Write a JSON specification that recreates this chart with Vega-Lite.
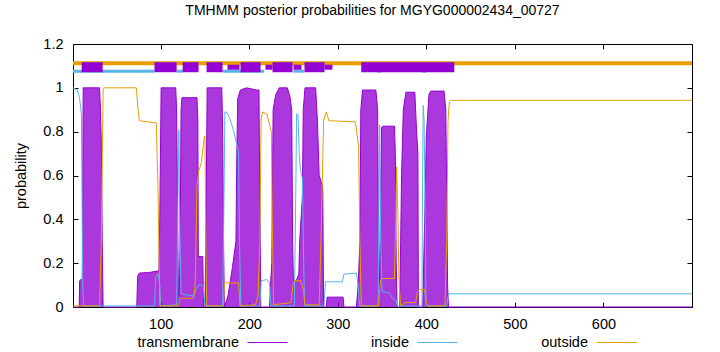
{
  "$schema": "https://vega.github.io/schema/vega-lite/v6.json",
  "width": 619,
  "height": 263,
  "autosize": {"type": "none"},
  "padding": {"left": 73, "top": 44, "right": 28, "bottom": 45},
  "background": "white",
  "title": {"text": "TMHMM posterior probabilities for MGYG000002434_00727", "fontSize": 14, "fontWeight": "normal", "font": "Liberation Sans", "color": "black", "offset": 18, "dx": -10},
  "config": {
    "font": "Liberation Sans",
    "view": {"stroke": "black", "strokeWidth": 1},
    "axis": {"grid": false, "domain": false, "tickColor": "black", "tickSize": -5, "labelFontSize": 14.5, "labelColor": "black", "labelFont": "Liberation Sans", "titleFont": "Liberation Sans", "titleFontSize": 14.5, "titleFontWeight": "normal", "titleColor": "black", "labelPadding": 15}
  },
  "resolve": {"axis": {"x": "independent", "y": "independent"}},
  "datasets": {
    "curves": [
      {"series":"transmembrane","pos":1,"prob":0},{"series":"transmembrane","pos":8,"prob":0},{"series":"transmembrane","pos":8.5,"prob":0.12},{"series":"transmembrane","pos":11.5,"prob":0.13},{"series":"transmembrane","pos":12.5,"prob":1.0},{"series":"transmembrane","pos":31,"prob":1.0},{"series":"transmembrane","pos":32,"prob":0.9},{"series":"transmembrane","pos":33,"prob":0.75},{"series":"transmembrane","pos":34,"prob":0.3},{"series":"transmembrane","pos":35,"prob":0},{"series":"transmembrane","pos":73,"prob":0},{"series":"transmembrane","pos":74,"prob":0.14},{"series":"transmembrane","pos":76,"prob":0.155},{"series":"transmembrane","pos":86,"prob":0.157},{"series":"transmembrane","pos":98,"prob":0.165},{"series":"transmembrane","pos":99,"prob":0.4},{"series":"transmembrane","pos":100.5,"prob":1.0},{"series":"transmembrane","pos":117,"prob":1.0},{"series":"transmembrane","pos":118,"prob":0.9},{"series":"transmembrane","pos":119,"prob":0.5},{"series":"transmembrane","pos":120,"prob":0.05},{"series":"transmembrane","pos":121,"prob":0.05},{"series":"transmembrane","pos":122,"prob":0.3},{"series":"transmembrane","pos":123,"prob":0.9},{"series":"transmembrane","pos":124,"prob":0.955},{"series":"transmembrane","pos":141,"prob":0.955},{"series":"transmembrane","pos":142,"prob":0.85},{"series":"transmembrane","pos":142.5,"prob":0.23},{"series":"transmembrane","pos":147.5,"prob":0.23},{"series":"transmembrane","pos":148.5,"prob":0},{"series":"transmembrane","pos":150,"prob":0},{"series":"transmembrane","pos":151,"prob":0.3},{"series":"transmembrane","pos":152.5,"prob":1.0},{"series":"transmembrane","pos":169,"prob":1.0},{"series":"transmembrane","pos":170,"prob":0.8},{"series":"transmembrane","pos":171,"prob":0.3},{"series":"transmembrane","pos":172,"prob":0},{"series":"transmembrane","pos":176,"prob":0.05},{"series":"transmembrane","pos":181,"prob":0.18},{"series":"transmembrane","pos":185,"prob":0.3},{"series":"transmembrane","pos":186,"prob":0.7},{"series":"transmembrane","pos":187,"prob":0.95},{"series":"transmembrane","pos":190,"prob":0.99},{"series":"transmembrane","pos":197,"prob":1.0},{"series":"transmembrane","pos":208,"prob":0.99},{"series":"transmembrane","pos":211,"prob":0.99},{"series":"transmembrane","pos":212,"prob":0.5},{"series":"transmembrane","pos":213,"prob":0},{"series":"transmembrane","pos":223,"prob":0},{"series":"transmembrane","pos":224,"prob":0.1},{"series":"transmembrane","pos":225.5,"prob":0.2},{"series":"transmembrane","pos":227,"prob":0.9},{"series":"transmembrane","pos":230,"prob":0.97},{"series":"transmembrane","pos":234,"prob":1.0},{"series":"transmembrane","pos":243,"prob":1.0},{"series":"transmembrane","pos":246,"prob":0.96},{"series":"transmembrane","pos":248,"prob":0.9},{"series":"transmembrane","pos":249,"prob":0.3},{"series":"transmembrane","pos":250,"prob":0.1},{"series":"transmembrane","pos":253,"prob":0.12},{"series":"transmembrane","pos":256,"prob":0.15},{"series":"transmembrane","pos":257,"prob":0.3},{"series":"transmembrane","pos":260,"prob":0.5},{"series":"transmembrane","pos":261,"prob":0.9},{"series":"transmembrane","pos":263,"prob":1.0},{"series":"transmembrane","pos":275,"prob":1.0},{"series":"transmembrane","pos":277,"prob":0.85},{"series":"transmembrane","pos":279,"prob":0.6},{"series":"transmembrane","pos":283,"prob":0.55},{"series":"transmembrane","pos":284,"prob":0},{"series":"transmembrane","pos":287,"prob":0},{"series":"transmembrane","pos":288,"prob":0.045},{"series":"transmembrane","pos":306,"prob":0.045},{"series":"transmembrane","pos":307,"prob":0},{"series":"transmembrane","pos":321,"prob":0},{"series":"transmembrane","pos":323,"prob":0.1},{"series":"transmembrane","pos":325,"prob":0.3},{"series":"transmembrane","pos":326,"prob":0.9},{"series":"transmembrane","pos":328,"prob":0.99},{"series":"transmembrane","pos":343,"prob":0.99},{"series":"transmembrane","pos":345,"prob":0.9},{"series":"transmembrane","pos":346,"prob":0.3},{"series":"transmembrane","pos":347,"prob":0.05},{"series":"transmembrane","pos":348,"prob":0.4},{"series":"transmembrane","pos":349.5,"prob":0.82},{"series":"transmembrane","pos":351,"prob":0.825},{"series":"transmembrane","pos":364,"prob":0.825},{"series":"transmembrane","pos":365,"prob":0.7},{"series":"transmembrane","pos":366,"prob":0.2},{"series":"transmembrane","pos":367,"prob":0},{"series":"transmembrane","pos":370,"prob":0},{"series":"transmembrane","pos":371,"prob":0.3},{"series":"transmembrane","pos":372,"prob":0.6},{"series":"transmembrane","pos":374,"prob":0.9},{"series":"transmembrane","pos":377,"prob":0.98},{"series":"transmembrane","pos":387,"prob":0.98},{"series":"transmembrane","pos":389,"prob":0.8},{"series":"transmembrane","pos":390.5,"prob":0.7},{"series":"transmembrane","pos":391,"prob":0},{"series":"transmembrane","pos":396,"prob":0},{"series":"transmembrane","pos":397,"prob":0.2},{"series":"transmembrane","pos":398,"prob":0.37},{"series":"transmembrane","pos":400,"prob":0.78},{"series":"transmembrane","pos":403,"prob":0.97},{"series":"transmembrane","pos":405,"prob":0.985},{"series":"transmembrane","pos":420,"prob":0.985},{"series":"transmembrane","pos":422,"prob":0.9},{"series":"transmembrane","pos":423,"prob":0.5},{"series":"transmembrane","pos":424,"prob":0.1},{"series":"transmembrane","pos":425,"prob":0},{"series":"transmembrane","pos":700,"prob":0},

      {"series":"inside","pos":1,"prob":1.0},{"series":"inside","pos":6,"prob":0.99},{"series":"inside","pos":8.5,"prob":0.95},{"series":"inside","pos":10.5,"prob":0.88},{"series":"inside","pos":12,"prob":0.1},{"series":"inside","pos":13,"prob":0.005},{"series":"inside","pos":93,"prob":0.005},{"series":"inside","pos":94.5,"prob":0.14},{"series":"inside","pos":97,"prob":0.15},{"series":"inside","pos":99,"prob":0.1},{"series":"inside","pos":100,"prob":0.005},{"series":"inside","pos":118,"prob":0.01},{"series":"inside","pos":119.5,"prob":0.5},{"series":"inside","pos":120.5,"prob":0.81},{"series":"inside","pos":121.5,"prob":0.4},{"series":"inside","pos":123,"prob":0.06},{"series":"inside","pos":137,"prob":0.05},{"series":"inside","pos":140,"prob":0.08},{"series":"inside","pos":143,"prob":0.1},{"series":"inside","pos":148,"prob":0.1},{"series":"inside","pos":150,"prob":0.005},{"series":"inside","pos":170,"prob":0.005},{"series":"inside","pos":171.5,"prob":0.5},{"series":"inside","pos":172.5,"prob":0.89},{"series":"inside","pos":174,"prob":0.89},{"series":"inside","pos":177,"prob":0.87},{"series":"inside","pos":182,"prob":0.81},{"series":"inside","pos":186,"prob":0.74},{"series":"inside","pos":188,"prob":0.71},{"series":"inside","pos":189,"prob":0.3},{"series":"inside","pos":190.5,"prob":0.005},{"series":"inside","pos":212,"prob":0.005},{"series":"inside","pos":213.5,"prob":0.12},{"series":"inside","pos":220,"prob":0.125},{"series":"inside","pos":223,"prob":0.11},{"series":"inside","pos":224.5,"prob":0.005},{"series":"inside","pos":251,"prob":0.005},{"series":"inside","pos":252.5,"prob":0.5},{"series":"inside","pos":253.5,"prob":0.88},{"series":"inside","pos":255,"prob":0.88},{"series":"inside","pos":256.5,"prob":0.7},{"series":"inside","pos":258,"prob":0.62},{"series":"inside","pos":260,"prob":0.59},{"series":"inside","pos":261.5,"prob":0.2},{"series":"inside","pos":262.5,"prob":0.005},{"series":"inside","pos":284.5,"prob":0.005},{"series":"inside","pos":286,"prob":0.115},{"series":"inside","pos":305,"prob":0.115},{"series":"inside","pos":307,"prob":0.15},{"series":"inside","pos":321,"prob":0.155},{"series":"inside","pos":323,"prob":0.1},{"series":"inside","pos":324.5,"prob":0.005},{"series":"inside","pos":345.5,"prob":0.005},{"series":"inside","pos":346.5,"prob":0.5},{"series":"inside","pos":347.3,"prob":0.83},{"series":"inside","pos":348.5,"prob":0.3},{"series":"inside","pos":350,"prob":0.07},{"series":"inside","pos":358,"prob":0.065},{"series":"inside","pos":362,"prob":0.04},{"series":"inside","pos":366,"prob":0.03},{"series":"inside","pos":367,"prob":0.005},{"series":"inside","pos":395,"prob":0.005},{"series":"inside","pos":395.8,"prob":0.6},{"series":"inside","pos":396.5,"prob":0.92},{"series":"inside","pos":397.5,"prob":0.85},{"series":"inside","pos":398.5,"prob":0.5},{"series":"inside","pos":399.7,"prob":0.005},{"series":"inside","pos":423,"prob":0.005},{"series":"inside","pos":425,"prob":0.06},{"series":"inside","pos":700,"prob":0.06},

      {"series":"outside","pos":1,"prob":0.005},{"series":"outside","pos":30,"prob":0.005},{"series":"outside","pos":31,"prob":0.01},{"series":"outside","pos":33,"prob":0.3},{"series":"outside","pos":35,"prob":0.99},{"series":"outside","pos":36,"prob":1.0},{"series":"outside","pos":72.5,"prob":1.0},{"series":"outside","pos":74.5,"prob":0.9},{"series":"outside","pos":76,"prob":0.85},{"series":"outside","pos":95,"prob":0.84},{"series":"outside","pos":97,"prob":0.55},{"series":"outside","pos":99,"prob":0.005},{"series":"outside","pos":120,"prob":0.005},{"series":"outside","pos":122,"prob":0.04},{"series":"outside","pos":137,"prob":0.04},{"series":"outside","pos":139,"prob":0.1},{"series":"outside","pos":141,"prob":0.55},{"series":"outside","pos":143,"prob":0.62},{"series":"outside","pos":146,"prob":0.66},{"series":"outside","pos":149,"prob":0.77},{"series":"outside","pos":150,"prob":0.78},{"series":"outside","pos":151,"prob":0.3},{"series":"outside","pos":152,"prob":0.005},{"series":"outside","pos":171,"prob":0.005},{"series":"outside","pos":172,"prob":0.11},{"series":"outside","pos":188,"prob":0.11},{"series":"outside","pos":189.5,"prob":0.005},{"series":"outside","pos":207,"prob":0.01},{"series":"outside","pos":210,"prob":0.05},{"series":"outside","pos":212,"prob":0.3},{"series":"outside","pos":213.5,"prob":0.86},{"series":"outside","pos":215,"prob":0.89},{"series":"outside","pos":220,"prob":0.88},{"series":"outside","pos":223,"prob":0.83},{"series":"outside","pos":225,"prob":0.8},{"series":"outside","pos":226,"prob":0.4},{"series":"outside","pos":227.5,"prob":0.01},{"series":"outside","pos":247,"prob":0.02},{"series":"outside","pos":249.5,"prob":0.1},{"series":"outside","pos":251,"prob":0.12},{"series":"outside","pos":258,"prob":0.12},{"series":"outside","pos":261,"prob":0.08},{"series":"outside","pos":263,"prob":0.01},{"series":"outside","pos":279,"prob":0.01},{"series":"outside","pos":281,"prob":0.3},{"series":"outside","pos":284,"prob":0.85},{"series":"outside","pos":287,"prob":0.89},{"series":"outside","pos":290,"prob":0.85},{"series":"outside","pos":320,"prob":0.845},{"series":"outside","pos":323.5,"prob":0.73},{"series":"outside","pos":325,"prob":0.3},{"series":"outside","pos":326.5,"prob":0.005},{"series":"outside","pos":346,"prob":0.005},{"series":"outside","pos":348,"prob":0.12},{"series":"outside","pos":350,"prob":0.13},{"series":"outside","pos":364,"prob":0.13},{"series":"outside","pos":365.5,"prob":0.4},{"series":"outside","pos":366.5,"prob":0.64},{"series":"outside","pos":368,"prob":0.4},{"series":"outside","pos":369,"prob":0.13},{"series":"outside","pos":371,"prob":0.005},{"series":"outside","pos":376,"prob":0.02},{"series":"outside","pos":388,"prob":0.02},{"series":"outside","pos":390,"prob":0.07},{"series":"outside","pos":392,"prob":0.08},{"series":"outside","pos":398,"prob":0.08},{"series":"outside","pos":400,"prob":0.02},{"series":"outside","pos":402,"prob":0.005},{"series":"outside","pos":421,"prob":0.005},{"series":"outside","pos":423,"prob":0.3},{"series":"outside","pos":424.5,"prob":0.85},{"series":"outside","pos":426,"prob":0.935},{"series":"outside","pos":428,"prob":0.943},{"series":"outside","pos":700,"prob":0.943}
    ],
    "bands": [
      {"kind":"outside","start":1,"end":700},
      {"kind":"inside","start":1,"end":93},
      {"kind":"inside","start":118,"end":125},
      {"kind":"inside","start":170,"end":217},
      {"kind":"inside","start":250,"end":262},
      {"kind":"inside","start":345,"end":349},
      {"kind":"inside","start":395.7,"end":400},
      {"kind":"tm","start":10.8,"end":34.5},
      {"kind":"tm","start":93,"end":118},
      {"kind":"tm","start":124.8,"end":142.8},
      {"kind":"tm","start":151.8,"end":169.9},
      {"kind":"tm","start":190.2,"end":212.8},
      {"kind":"tm","start":226.3,"end":248.9},
      {"kind":"tm","start":262.4,"end":285},
      {"kind":"tm","start":326.5,"end":431.6},
      {"kind":"tm_partial","start":175.5,"end":189},
      {"kind":"tm_partial","start":218.4,"end":226.3},
      {"kind":"tm_partial","start":250,"end":259},
      {"kind":"tm_partial","start":285,"end":294}
    ]
  },
  "layer": [
    {
      "data": {"name": "curves"},
      "transform": [{"filter": "datum.series === 'transmembrane'"}],
      "mark": {"type": "area", "fill": "#9400d3", "fillOpacity": 0.78, "interpolate": "linear"},
      "encoding": {
        "x": {"field": "pos", "type": "quantitative", "scale": {"domain": [1, 700], "nice": false}, "axis": {"values": [100, 200, 300, 400, 500, 600], "title": null}},
        "y": {"field": "prob", "type": "quantitative", "scale": {"domain": [0, 1.2], "nice": false}, "axis": {"values": [0, 0.2, 0.4, 0.6, 0.8, 1, 1.2], "format": "~g", "title": "probability", "titlePadding": 14}}
      }
    },
    {
      "data": {"name": "curves"},
      "mark": {"type": "line", "strokeWidth": 1},
      "encoding": {
        "x": {"field": "pos", "type": "quantitative", "axis": {"orient": "top", "values": [100, 200, 300, 400, 500, 600], "labels": false, "title": null}},
        "y": {"field": "prob", "type": "quantitative", "axis": {"orient": "right", "values": [0, 0.2, 0.4, 0.6, 0.8, 1, 1.2], "labels": false, "title": null}},
        "color": {
          "field": "series", "type": "nominal",
          "scale": {"domain": ["transmembrane", "inside", "outside"], "range": ["#9400d3", "#56b4e9", "#e69f00"]},
          "legend": {"title": null, "orient": "none", "legendX": 174, "legendY": 278, "direction": "horizontal", "symbolType": "stroke", "symbolSize": 1600, "symbolStrokeWidth": 1, "labelFontSize": 14.5, "labelFont": "Liberation Sans", "labelColor": "black", "labelAlign": "right", "labelOffset": -49, "columnPadding": 81, "padding": 0}
        }
      }
    },
    {
      "data": {"name": "bands"},
      "transform": [{"filter": "datum.kind === 'outside'"}],
      "mark": {"type": "rule", "stroke": "#e69f00", "strokeWidth": 4},
      "encoding": {"x": {"field": "start", "type": "quantitative", "axis": null}, "x2": {"field": "end"}, "y": {"datum": 1.112, "axis": null}}
    },
    {
      "data": {"name": "bands"},
      "transform": [{"filter": "datum.kind === 'inside'"}],
      "mark": {"type": "rule", "stroke": "#56b4e9", "strokeWidth": 3},
      "encoding": {"x": {"field": "start", "type": "quantitative", "axis": null}, "x2": {"field": "end"}, "y": {"datum": 1.076, "axis": null}}
    },
    {
      "data": {"name": "bands"},
      "transform": [{"filter": "datum.kind === 'tm'"}],
      "mark": {"type": "rule", "stroke": "#9400d3", "strokeWidth": 10},
      "encoding": {"x": {"field": "start", "type": "quantitative", "axis": null}, "x2": {"field": "end"}, "y": {"datum": 1.094, "axis": null}}
    },
    {
      "data": {"name": "bands"},
      "transform": [{"filter": "datum.kind === 'tm_partial'"}],
      "mark": {"type": "rule", "stroke": "#9400d3", "strokeWidth": 5},
      "encoding": {"x": {"field": "start", "type": "quantitative", "axis": null}, "x2": {"field": "end"}, "y": {"datum": 1.094, "axis": null}}
    }
  ]
}
